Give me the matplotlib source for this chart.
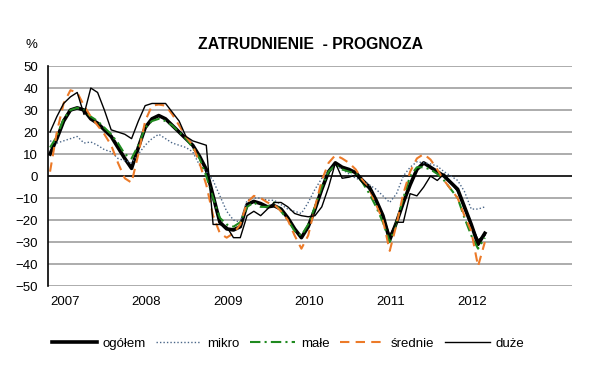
import matplotlib
matplotlib.use('Agg')
import matplotlib.pyplot as plt
import numpy as np

plt.rcParams['font.family'] = ['Liberation Sans', 'DejaVu Sans']

# monthly values, first point = start of 2007
ogolem = [10, 17, 25, 30, 31, 30, 26, 24, 21, 18, 13, 8, 3.5,
          13, 22, 26, 27.5, 26, 23, 20, 17, 14, 9, 3,
          -9, -21, -24, -24.5, -23, -13, -11.5, -12.5, -14, -13.5, -15, -19,
          -24, -28, -23, -15, -6, 2, 6, 4, 3, 1.5, -2, -5,
          -11, -18, -29, -21, -12, -4, 3, 6, 4, 2, 0, -3,
          -6, -14, -22, -31, -26]
mikro = [16, 15, 16, 17, 18, 15, 15.5, 14, 12, 11, 8, 7, 6,
         10, 14, 17, 19, 17, 15, 14, 13, 11, 5, 2,
         -2, -9, -16, -20, -21, -11, -10, -10, -11, -11, -13, -15,
         -16, -17, -12, -6, -1, 2, 5, 3, 1, -1, -2, -4,
         -6, -9, -12, -8, 0, 4, 6.5, 6, 5.5, 4.5, 2, 0,
         -2, -7, -15, -15, -14]
male = [13, 18, 26, 30, 31, 30, 27, 25, 22, 19, 15, 10, 8,
        14, 22, 25, 26, 25, 23, 20, 17, 13, 8, 0,
        -10, -19, -22, -23, -21, -14, -12, -14, -14, -12, -16, -20,
        -25, -27, -22, -14, -5, 2, 5, 3, 2, 1, -3, -8,
        -14, -21, -30, -21, -10, 0, 4, 4, 3, 1, -2, -6,
        -10, -19, -27, -33, -28]
srednie = [2, 20, 33, 39, 38, 32, 27, 23, 19, 14, 6, -1, -3,
           10, 25, 32, 32.5, 32, 28, 23, 18, 14, 6, -4,
           -18, -26, -28, -26, -22, -12, -9, -10, -12, -13, -16, -20,
           -27, -33, -27, -14, -2, 6, 9.5, 8, 6, 3, -2, -6,
           -13, -20, -34, -22, -8, 2, 8, 10, 7.5, 3, -2, -6,
           -10, -18, -25, -41, -30]
duze = [20, 27, 33, 36, 38, 28, 40, 38, 30, 21, 20, 19, 17,
        25, 32, 33, 33, 33, 29, 25, 18, 16, 15, 14,
        -22, -22, -23, -28, -28, -18, -16, -18, -15, -12, -12, -14,
        -17, -18, -18.5, -18, -14, -5, 6, -1, -0.5, 0.5, -3, -6,
        -11, -18, -27, -21, -21, -8, -9, -5, 0, -2, 1, -3,
        -7, -15, -22, -29, -27]

years = ['2007', '2008', '2009', '2010', '2011', '2012']
yticks = [50, 40, 30, 20, 10, 0, -10, -20, -30, -40, -50]

x = np.arange(len(ogolem))

fig = plt.figure(figsize=(6, 3.84), dpi=100)
ax = fig.add_axes([0.08, 0.255, 0.873, 0.573])

for y in yticks:
    if y == 0:
        ax.axhline(y, color='black', lw=1.2, zorder=1)
    else:
        ax.axhline(y, color='#a6a6a6', lw=1.3, zorder=1)

ax.plot(x, ogolem, color='black', lw=2.6, label='ogółem', zorder=3)
ax.plot(x, mikro, color='#4a6688', lw=1.0, ls=(0, (1, 1.5)), label='mikro', zorder=3)
ax.plot(x, male, color='#1f8a1f', lw=1.5, ls=(0, (5, 2, 1, 2)), label='małe', zorder=4)
ax.plot(x, srednie, color='#ec7a28', lw=1.5, ls=(0, (4.5, 3)), label='średnie', zorder=4)
ax.plot(x, duze, color='black', lw=1.0, label='duże', zorder=5)

ax.set_xlim(-0.3, 76.8)
ax.set_ylim(-50, 50)
ax.set_yticks(yticks)
ax.tick_params(axis='y', length=0, pad=7, labelsize=9.5)
ax.set_xticks([0, 12, 24, 36, 48, 60])
ax.set_xticklabels(years, ha='left')
ax.tick_params(axis='x', length=0, pad=7, labelsize=9.5)

for s in ['top', 'right', 'bottom']:
    ax.spines[s].set_visible(False)
ax.spines['left'].set_color('black')
ax.spines['left'].set_linewidth(1.2)

fig.text(0.517, 0.885, 'ZATRUDNIENIE  - PROGNOZA', ha='center', va='center',
         fontsize=11.3, fontweight='bold')
fig.text(0.052, 0.882, '%', ha='center', va='center', fontsize=9.5)

fig.legend(loc='center', bbox_to_anchor=(0.48, 0.105), ncol=5, frameon=False,
           fontsize=9.5, handlelength=3.4, handletextpad=0.45, columnspacing=0.8)

fig.savefig('out.png', dpi=100)
